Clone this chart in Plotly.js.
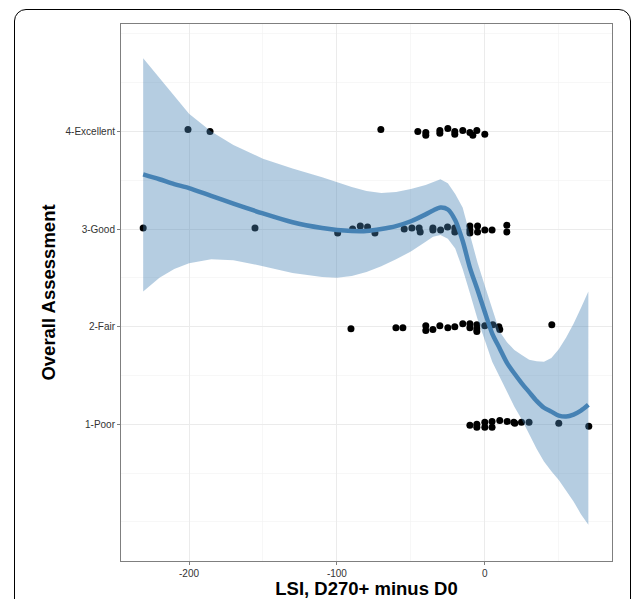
<!DOCTYPE html>
<html>
<head>
<meta charset="utf-8">
<script src="https://cdn.plot.ly/plotly-3.0.1.min.js"></script>
<style>
  html, body { margin: 0; padding: 0; background: #fff; overflow: hidden; }
  #wrap { position: relative; width: 634px; height: 599px; }
  #chart { position: absolute; left: 0; top: 0; width: 634px; height: 599px; }
  #frame { position: absolute; left: 14px; top: 9px; width: 617px; height: 640px;
           border: 1.5px solid #000; border-radius: 12px; pointer-events: none; box-sizing: border-box; }
</style>
</head>
<body>
<div id="wrap"><div id="chart"></div><div id="frame"></div></div>
<script>
// ---- data ----
const yTickVals = [1, 2, 3, 4];
const yTickText = ['1-Poor', '2-Fair', '3-Good', '4-Excellent'];
const xTickVals = [-200, -100, 0];
const xTickText = ['-200', '-100', '0'];

const excellentX = [-200.7, -185.8, -70.3, -45.3, -39.9, -39.9, -30.4, -30.4, -25, -20.3, -20.3, -14.9, -10.1, -8.1, -5.4, 0];
const excellentY = [4.02, 4.00, 4.02, 4.00, 3.99, 3.96, 4.01, 3.98, 4.03, 4.00, 3.97, 4.01, 3.99, 3.96, 4.01, 3.97];

const goodX = [-231, -155.4, -99.5, -89.4, -84.2, -79.3, -74.3, -54.5, -49.3, -44.4, -43.7, -35.1, -35.1, -29.9, -25.2, -20.3, -20.3, -10.1, -10.1, -10.1, -4.9, -4.9, 0, 4.9, 14.9, 14.9];
const goodY = [3.01, 3.01, 2.96, 3.00, 3.03, 3.02, 2.96, 3.00, 3.01, 3.01, 2.97, 3.01, 2.99, 2.99, 3.02, 3.01, 2.97, 3.03, 2.99, 2.96, 3.03, 2.97, 2.99, 2.99, 3.04, 2.97];

const fairX = [-90.5, -60.1, -55.4, -39.9, -39.9, -35.1, -30.4, -25, -20.3, -14.9, -10.1, -10.1, -5.4, -5.4, -5.4, 0, 5.4, 9.5, 10.1, 45.3];
const fairY = [1.98, 1.99, 1.99, 2.01, 1.96, 1.97, 2.01, 1.99, 2.00, 2.03, 2.03, 1.99, 2.02, 1.98, 1.95, 2.01, 2.02, 2.00, 1.97, 2.02];

const poorX = [-10.1, -5.4, -5.4, 0, 0, 4.9, 4.9, 10.1, 15.1, 19.6, 20.3, 24.8, 29.9, 50, 70.3];
const poorY = [0.99, 0.97, 1.00, 1.02, 0.97, 1.03, 0.97, 1.04, 1.03, 1.02, 1.01, 1.02, 1.02, 1.01, 0.98];

// smoother (loess fit) and its confidence band
const smoothX = [-231, -220, -210, -200, -185, -170, -150, -130, -110, -100, -90, -80, -70, -60, -50, -40, -35, -30, -25, -20, -15, -10, -5, 0, 5, 10, 15, 20, 25, 30, 35, 40, 45, 50, 55, 60, 65, 70];
const fitY   = [3.56, 3.51, 3.46, 3.42, 3.34, 3.26, 3.16, 3.07, 3.01, 2.99, 2.98, 2.98, 3.00, 3.03, 3.08, 3.15, 3.19, 3.22, 3.20, 3.09, 2.88, 2.60, 2.38, 2.15, 1.93, 1.78, 1.63, 1.52, 1.42, 1.33, 1.24, 1.17, 1.13, 1.09, 1.08, 1.10, 1.14, 1.20];
const upperY = [4.75, 4.55, 4.36, 4.18, 4.00, 3.86, 3.72, 3.62, 3.53, 3.48, 3.43, 3.39, 3.37, 3.38, 3.41, 3.45, 3.48, 3.51, 3.47, 3.36, 3.22, 2.95, 2.66, 2.42, 2.18, 1.95, 1.84, 1.76, 1.71, 1.66, 1.645, 1.64, 1.68, 1.77, 1.89, 2.03, 2.19, 2.36];
const lowerY = [2.36, 2.50, 2.59, 2.65, 2.69, 2.68, 2.62, 2.55, 2.51, 2.50, 2.52, 2.56, 2.62, 2.69, 2.77, 2.87, 2.92, 2.94, 2.90, 2.80, 2.59, 2.34, 2.08, 1.86, 1.64, 1.48, 1.33, 1.18, 1.05, 0.90, 0.75, 0.62, 0.52, 0.43, 0.32, 0.21, 0.08, -0.03];

// ---- traces ----
const pointStyle = { color: '#000000', size: 7, line: { width: 0 } };
const cats = [[excellentX, excellentY], [goodX, goodY], [fairX, fairY], [poorX, poorY]];
const traces = cats.map(c => ({
  type: 'scatter', mode: 'markers', x: c[0], y: c[1],
  marker: pointStyle, showlegend: false, hoverinfo: 'x+y'
}));

traces.push({
  type: 'scatter', mode: 'lines',
  x: smoothX.concat(smoothX.slice().reverse()),
  y: upperY.concat(lowerY.slice().reverse()),
  fill: 'toself', fillcolor: 'rgba(70,130,180,0.4)',
  line: { width: 0, color: 'rgba(0,0,0,0)' },
  showlegend: false, hoverinfo: 'skip'
});

traces.push({
  type: 'scatter', mode: 'lines', x: smoothX, y: fitY,
  line: { color: '#4682b4', width: 4.5, shape: 'spline', smoothing: 0.8 },
  showlegend: false
});

const tickFont = { family: 'Liberation Sans, Arial, sans-serif', size: 10, color: '#333333' };
const titleFont = { family: 'Liberation Sans, Arial, sans-serif', size: 18.5, color: '#000000', weight: 'bold' };

const layout = {
  width: 634, height: 599,
  margin: { l: 121, r: 22, t: 24, b: 38 },
  paper_bgcolor: '#ffffff', plot_bgcolor: '#ffffff',
  showlegend: false,
  xaxis: {
    range: [-246, 86], tickmode: 'array', tickvals: xTickVals, ticktext: xTickText,
    ticks: 'outside', ticklen: 3, tickcolor: '#7f7f7f', tickwidth: 1,
    showline: true, mirror: true, linecolor: '#7f7f7f', linewidth: 1,
    showgrid: true, gridcolor: '#ebebeb', gridwidth: 1, zeroline: false,
    minor: { dtick: 50, tick0: 0, showgrid: true, gridcolor: '#f2f2f2', gridwidth: 0.6, ticks: '' },
    tickfont: tickFont,
    title: { text: 'LSI, D270+ minus D0', font: titleFont, standoff: 3 },
    automargin: false
  },
  yaxis: {
    range: [-0.40, 5.10], tickmode: 'array', tickvals: yTickVals, ticktext: yTickText,
    ticks: 'outside', ticklen: 3, tickcolor: '#7f7f7f', tickwidth: 1,
    showline: true, mirror: true, linecolor: '#7f7f7f', linewidth: 1,
    showgrid: true, gridcolor: '#ebebeb', gridwidth: 1, zeroline: false,
    minor: { dtick: 0.5, tick0: 0, showgrid: true, gridcolor: '#f2f2f2', gridwidth: 0.6, ticks: '' },
    tickfont: tickFont,
    title: { text: 'Overall Assessment', font: titleFont, standoff: 5 },
    automargin: false
  }
};

Plotly.newPlot('chart', traces, layout, { displayModeBar: false, staticPlot: true });
</script>
</body>
</html>
